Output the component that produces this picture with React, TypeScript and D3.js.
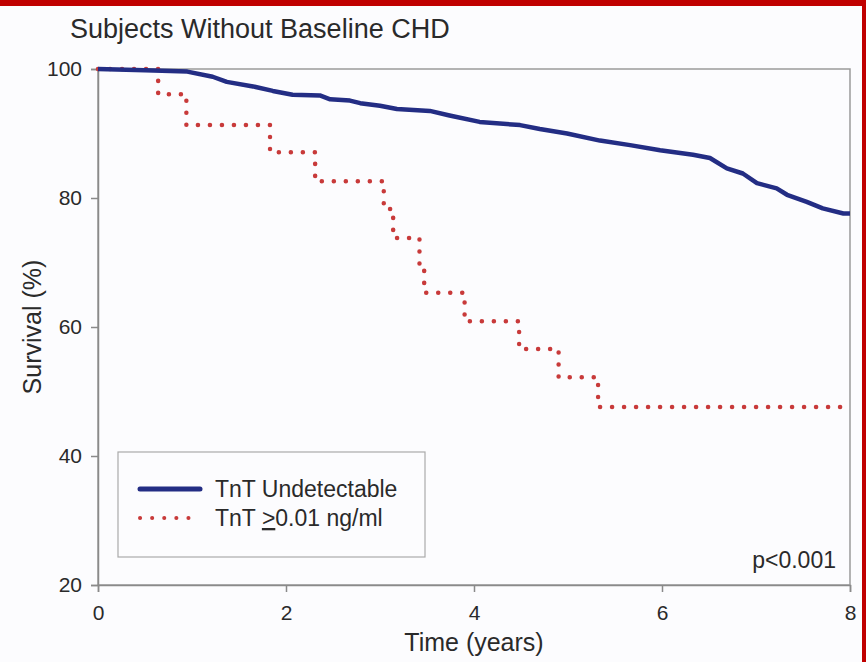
import { useEffect, useRef } from 'react';
import * as d3 from 'd3';

// TnT undetectable group (time in years, survival %)
const blueTimes = [0, 0.5, 0.95, 1.22, 1.37, 1.65, 1.86, 2.07, 2.36, 2.47, 2.68, 2.79, 3.0, 3.18, 3.53, 3.74, 4.06, 4.49, 4.7, 4.99, 5.34, 5.66, 5.98, 6.33, 6.51, 6.69, 6.86, 7.01, 7.22, 7.33, 7.54, 7.71, 7.93, 8.0];
const blueSurv = [100, 99.8, 99.6, 98.8, 98.0, 97.3, 96.6, 96.0, 95.9, 95.3, 95.1, 94.7, 94.3, 93.8, 93.5, 92.8, 91.8, 91.3, 90.7, 90.0, 88.9, 88.2, 87.4, 86.7, 86.2, 84.6, 83.8, 82.3, 81.5, 80.5, 79.4, 78.4, 77.6, 77.6];

// TnT >= 0.01 ng/ml group
const redTimes = [0, 0.64, 0.94, 1.83, 2.31, 3.04, 3.14, 3.42, 3.47, 3.9, 4.48, 4.9, 5.32, 8.0];
const redSurv = [100, 96.1, 91.3, 87.1, 82.6, 78.3, 73.8, 69.6, 65.3, 60.9, 56.6, 52.2, 47.6, 47.6];

const xTicks = [0, 2, 4, 6, 8];
const yTicks = [20, 40, 60, 80, 100];

export default function App() {
  const ref = useRef<SVGSVGElement | null>(null);

  useEffect(() => {
    const svg = d3.select(ref.current);
    svg.selectAll('*').remove();

    const W = 866, H = 662;
    const left = 98, right = 850, top = 69, bottom = 585;
    const font = '"Liberation Sans", Arial, sans-serif';
    const ink = '#2a2a2a';

    svg.append('rect').attr('width', W).attr('height', H).attr('fill', '#fcfcfe');
    // red frame of the slide
    svg.append('rect').attr('x', 0).attr('y', 0).attr('width', W).attr('height', 6).attr('fill', '#c00000');
    svg.append('rect').attr('x', 862).attr('y', 0).attr('width', 4).attr('height', H).attr('fill', '#c00000');

    const x = d3.scaleLinear().domain([0, 8]).range([left, right]);
    const y = d3.scaleLinear().domain([20, 100]).range([bottom, top]);

    // plot frame
    svg.append('rect')
      .attr('x', left).attr('y', top)
      .attr('width', right - left).attr('height', bottom - top)
      .attr('fill', 'none').attr('stroke', '#9a9a9a').attr('stroke-width', 1.5);

    const xAxis = svg.append('g')
      .attr('transform', `translate(0,${bottom})`)
      .call(d3.axisBottom(x).tickValues(xTicks).tickSize(7).tickPadding(13).tickFormat(d3.format('d')));
    const yAxis = svg.append('g')
      .attr('transform', `translate(${left},0)`)
      .call(d3.axisLeft(y).tickValues(yTicks).tickSize(7).tickPadding(9).tickFormat(d3.format('d')));
    [xAxis, yAxis].forEach(a => {
      a.select('.domain').attr('stroke', '#8a8a8a').attr('stroke-width', 1.5);
      a.selectAll('.tick line').attr('stroke', '#8a8a8a').attr('stroke-width', 1.5);
      a.selectAll('.tick text')
        .attr('fill', ink).attr('font-size', 21).attr('font-family', font);
    });

    const line = d3.line<[number, number]>()
      .x(d => x(d[0]))
      .y(d => y(d[1]));

    const blue: [number, number][] = blueTimes.map((t, i) => [t, blueSurv[i]]);
    const red: [number, number][] = redTimes.map((t, i) => [t, redSurv[i]]);

    svg.append('path')
      .attr('d', line.curve(d3.curveStepAfter)(red))
      .attr('fill', 'none').attr('stroke', '#c83a3a').attr('stroke-width', 4.5)
      .attr('stroke-linecap', 'round').attr('stroke-dasharray', '0.1 11.9');

    svg.append('path')
      .attr('d', line.curve(d3.curveLinear)(blue))
      .attr('fill', 'none').attr('stroke', '#232d84').attr('stroke-width', 4.5)
      .attr('stroke-linejoin', 'round');

    // title and axis labels
    svg.append('text').attr('x', 70).attr('y', 38)
      .attr('font-size', 27).attr('font-family', font).attr('fill', ink)
      .text('Subjects Without Baseline CHD');
    svg.append('text').attr('x', (left + right) / 2).attr('y', 651)
      .attr('text-anchor', 'middle')
      .attr('font-size', 25).attr('font-family', font).attr('fill', ink)
      .text('Time (years)');
    svg.append('text')
      .attr('transform', `translate(41,${(top + bottom) / 2}) rotate(-90)`)
      .attr('text-anchor', 'middle')
      .attr('font-size', 25).attr('font-family', font).attr('fill', ink)
      .text('Survival (%)');

    // legend
    const lg = svg.append('g');
    lg.append('rect').attr('x', 118).attr('y', 452).attr('width', 307).attr('height', 105)
      .attr('fill', '#fcfcfe').attr('stroke', '#aaa').attr('stroke-width', 1.2);
    lg.append('line').attr('x1', 140).attr('x2', 200).attr('y1', 489).attr('y2', 489)
      .attr('stroke', '#232d84').attr('stroke-width', 5).attr('stroke-linecap', 'round');
    lg.append('line').attr('x1', 140).attr('x2', 200).attr('y1', 518).attr('y2', 518)
      .attr('stroke', '#c83a3a').attr('stroke-width', 4)
      .attr('stroke-linecap', 'round').attr('stroke-dasharray', '0.1 12');
    lg.append('text').attr('x', 215).attr('y', 497)
      .attr('font-size', 23).attr('font-family', font).attr('fill', ink)
      .text('TnT Undetectable');
    const t2 = lg.append('text').attr('x', 215).attr('y', 526)
      .attr('font-size', 23).attr('font-family', font).attr('fill', ink);
    t2.append('tspan').text('TnT ');
    t2.append('tspan').attr('text-decoration', 'underline').text('>');
    t2.append('tspan').text('0.01 ng/ml');

    svg.append('text').attr('x', 836).attr('y', 568)
      .attr('text-anchor', 'end')
      .attr('font-size', 23).attr('font-family', font).attr('fill', ink)
      .text('p<0.001');
  }, []);

  return (
    <svg
      ref={ref}
      width={866}
      height={662}
      style={{ position: 'absolute', left: 0, top: 0, display: 'block' }}
    />
  );
}
